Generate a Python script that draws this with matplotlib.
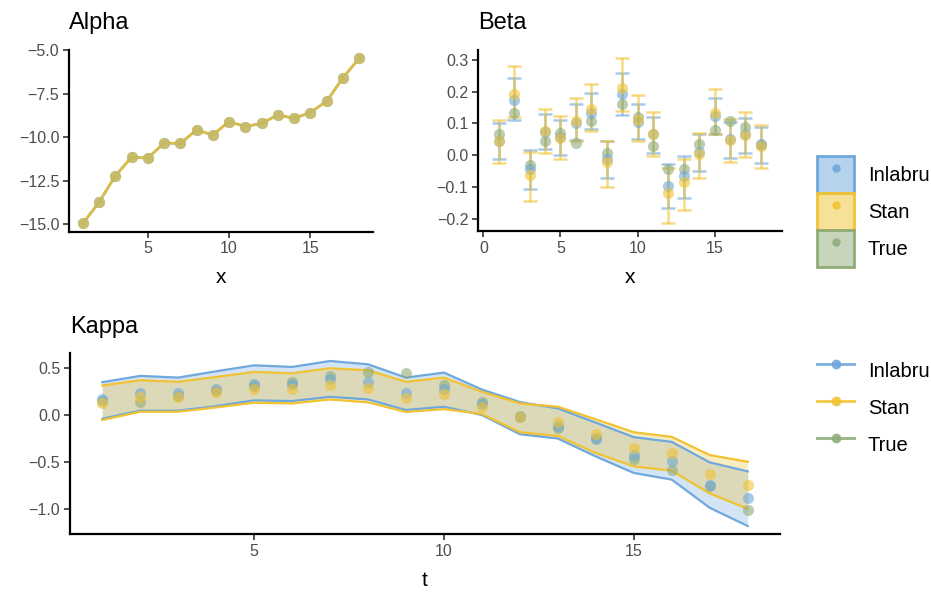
import numpy as np
import matplotlib
matplotlib.use("Agg")
import matplotlib.pyplot as plt
from matplotlib.ticker import FuncFormatter
from matplotlib.patches import Patch
from matplotlib.lines import Line2D
from matplotlib.legend_handler import HandlerTuple

plt.rcParams['font.family'] = ['Liberation Sans', 'DejaVu Sans']

# ---- data ----
idx = np.arange(1, 19)
methods = ["Inlabru", "Stan", "True"]
colors = {"Inlabru": "#6fa8dc", "Stan": "#f1c232", "True": "#8fac78"}

alpha_true = [-14.96, -13.74, -12.22, -11.15, -11.20, -10.33, -10.36, -9.58, -9.87,
              -9.10, -9.39, -9.20, -8.72, -8.91, -8.58, -7.93, -6.59, -5.46]
alpha_inlabru = [-14.96, -13.74, -12.22, -11.15, -11.20, -10.33, -10.36, -9.58, -9.87,
                 -9.10, -9.39, -9.20, -8.72, -8.91, -8.58, -7.93, -6.59, -5.46]
alpha_stan = [-14.96, -13.74, -12.22, -11.15, -11.20, -10.33, -10.36, -9.58, -9.87,
              -9.10, -9.39, -9.20, -8.72, -8.91, -8.58, -7.93, -6.59, -5.46]

beta_true = [0.067, 0.134, -0.031, 0.044, 0.069, 0.039, 0.107, 0.006, 0.160,
             0.119, 0.029, -0.043, -0.043, 0.035, 0.078, 0.108, 0.088, 0.031]
beta_inlabru = [0.045, 0.175, -0.044, 0.072, 0.058, 0.100, 0.133, -0.012, 0.192,
                0.104, 0.065, -0.096, -0.067, 0.011, 0.123, 0.050, 0.065, 0.035]
beta_inlabru_lo = [-0.012, 0.112, -0.108, 0.020, 0.000, 0.048, 0.081, -0.072, 0.126,
                   0.050, 0.008, -0.168, -0.134, -0.050, 0.065, -0.008, 0.006, -0.024]
beta_inlabru_hi = [0.100, 0.243, 0.017, 0.131, 0.110, 0.160, 0.196, 0.044, 0.259,
                   0.162, 0.120, -0.027, -0.002, 0.065, 0.181, 0.103, 0.118, 0.088]
beta_stan = [0.044, 0.194, -0.062, 0.075, 0.055, 0.107, 0.146, -0.023, 0.212,
             0.112, 0.066, -0.119, -0.084, 0.003, 0.133, 0.048, 0.063, 0.029]
beta_stan_lo = [-0.026, 0.121, -0.145, 0.008, -0.013, 0.043, 0.077, -0.101, 0.138,
                0.043, -0.003, -0.213, -0.174, -0.073, 0.065, -0.022, -0.005, -0.042]
beta_stan_hi = [0.110, 0.280, 0.011, 0.144, 0.122, 0.181, 0.225, 0.046, 0.305,
                0.188, 0.135, -0.041, -0.013, 0.069, 0.207, 0.114, 0.135, 0.096]

kappa_true = [0.150, 0.141, 0.200, 0.250, 0.310, 0.348, 0.411, 0.457, 0.446,
              0.323, 0.141, -0.011, -0.141, -0.240, -0.468, -0.587, -0.756, -1.009]
kappa_inlabru = [0.165, 0.235, 0.229, 0.271, 0.334, 0.327, 0.383, 0.345, 0.229,
                 0.271, 0.116, -0.020, -0.116, -0.250, -0.422, -0.485, -0.738, -0.883]
kappa_inlabru_lo = [-0.039, 0.046, 0.046, 0.095, 0.155, 0.148, 0.193, 0.165, 0.053,
                    0.088, 0.000, -0.204, -0.250, -0.440, -0.615, -0.686, -0.985, -1.178]
kappa_inlabru_hi = [0.348, 0.415, 0.397, 0.464, 0.527, 0.510, 0.573, 0.538, 0.397,
                    0.450, 0.270, 0.137, 0.070, -0.081, -0.235, -0.285, -0.503, -0.598]
kappa_stan = [0.130, 0.186, 0.193, 0.239, 0.281, 0.271, 0.323, 0.288, 0.183,
              0.218, 0.088, -0.025, -0.070, -0.204, -0.352, -0.404, -0.626, -0.742]
kappa_stan_lo = [-0.053, 0.035, 0.035, 0.081, 0.130, 0.123, 0.165, 0.134, 0.032,
                 0.063, 0.011, -0.183, -0.222, -0.404, -0.545, -0.591, -0.833, -0.995]
kappa_stan_hi = [0.313, 0.369, 0.352, 0.404, 0.457, 0.443, 0.496, 0.475, 0.352,
                 0.397, 0.246, 0.123, 0.088, -0.046, -0.183, -0.232, -0.425, -0.496]

alpha_data = {"Inlabru": alpha_inlabru, "Stan": alpha_stan, "True": alpha_true}
beta_data = {"Inlabru": beta_inlabru, "Stan": beta_stan, "True": beta_true}
kappa_data = {"Inlabru": kappa_inlabru, "Stan": kappa_stan, "True": kappa_true}

PT_ALPHA = 0.6
MS = 8
draw_order = ["True", "Inlabru", "Stan"]


def minus_fmt(v, pos):
    return f"{v:.1f}".replace("-", "\u2212")


def style_axes(ax, title, xlabel, title_pad):
    for s in ["top", "right"]:
        ax.spines[s].set_visible(False)
    for s in ["left", "bottom"]:
        ax.spines[s].set_linewidth(1.6)
        ax.spines[s].set_color("black")
    ax.tick_params(axis="both", length=4.5, width=1.2, color="#333333",
                   labelcolor="#4d4d4d", labelsize=11.5, pad=2.5)
    ax.set_title(title, loc="left", fontsize=17, pad=title_pad)
    ax.set_xlabel(xlabel, fontsize=15, labelpad=8.5)


fig = plt.figure(figsize=(9.31, 5.94), dpi=100)

# ---- Alpha ----
ax1 = fig.add_axes([0.0741, 0.6099, 0.3265, 0.3059])
for m in ["Inlabru", "True", "Stan"]:
    ax1.plot(idx, alpha_data[m], color=colors[m], lw=1.8, alpha=0.85)
for m in draw_order:
    ax1.plot(idx, alpha_data[m], "o", color=colors[m], ms=MS, alpha=PT_ALPHA, mec="none")
ax1.set_xlim(0.15, 18.85)
ax1.set_ylim(-15.435, -4.985)
ax1.set_xticks([5, 10, 15])
ax1.set_yticks([-15, -12.5, -10, -7.5, -5])
ax1.yaxis.set_major_formatter(FuncFormatter(minus_fmt))
style_axes(ax1, "Alpha", "x", 15)

# ---- Beta ----
ax2 = fig.add_axes([0.5134, 0.6111, 0.3262, 0.3047])
ax2.errorbar(idx, beta_inlabru,
             yerr=[np.subtract(beta_inlabru, beta_inlabru_lo), np.subtract(beta_inlabru_hi, beta_inlabru)],
             fmt="none", ecolor=colors["Inlabru"], elinewidth=1.8, capsize=5, capthick=1.8, alpha=PT_ALPHA)
ax2.errorbar(idx, beta_stan,
             yerr=[np.subtract(beta_stan, beta_stan_lo), np.subtract(beta_stan_hi, beta_stan)],
             fmt="none", ecolor=colors["Stan"], elinewidth=1.8, capsize=5, capthick=1.8, alpha=PT_ALPHA)
for m in draw_order:
    ax2.plot(idx, beta_data[m], "o", color=colors[m], ms=MS, alpha=PT_ALPHA, mec="none")
ax2.set_xlim(-0.35, 19.35)
ax2.set_ylim(-0.239, 0.331)
ax2.set_xticks([0, 5, 10, 15])
ax2.set_yticks([-0.2, -0.1, 0.0, 0.1, 0.2, 0.3])
ax2.yaxis.set_major_formatter(FuncFormatter(minus_fmt))
style_axes(ax2, "Beta", "x", 15)

# ---- Kappa ----
ax3 = fig.add_axes([0.0752, 0.1005, 0.7626, 0.3057])
ax3.fill_between(idx, kappa_inlabru_lo, kappa_inlabru_hi, color=colors["Inlabru"], alpha=0.3, lw=0)
ax3.plot(idx, kappa_inlabru_lo, color=colors["Inlabru"], lw=1.6)
ax3.plot(idx, kappa_inlabru_hi, color=colors["Inlabru"], lw=1.6)
ax3.fill_between(idx, kappa_stan_lo, kappa_stan_hi, color=colors["Stan"], alpha=0.3, lw=0)
ax3.plot(idx, kappa_stan_lo, color=colors["Stan"], lw=1.6)
ax3.plot(idx, kappa_stan_hi, color=colors["Stan"], lw=1.6)
for m in draw_order:
    ax3.plot(idx, kappa_data[m], "o", color=colors[m], ms=MS, alpha=PT_ALPHA, mec="none")
ax3.set_xlim(0.15, 18.85)
ax3.set_ylim(-1.266, 0.661)
ax3.set_xticks([5, 10, 15])
ax3.set_yticks([-1.0, -0.5, 0.0, 0.5])
ax3.yaxis.set_major_formatter(FuncFormatter(minus_fmt))
style_axes(ax3, "Kappa", "t", 14)

# ---- legends ----
box_handles = [(Patch(facecolor=colors[m], alpha=0.5, edgecolor="none"),
                Patch(facecolor="none", edgecolor=colors[m], lw=2),
                Line2D([], [], marker="o", ls="none", color=colors[m], ms=6, alpha=0.9, mec="none"))
               for m in methods]
fig.legend(box_handles, methods, loc="center left", bbox_to_anchor=(0.878, 0.644),
           handler_map={tuple: HandlerTuple(ndivide=1, pad=0)},
           frameon=False, fontsize=14.5, handlelength=1.8, handleheight=2.45,
           labelspacing=0.0, handletextpad=0.7, borderpad=0, borderaxespad=0)

line_handles = [Line2D([], [], color=colors[m], lw=2, marker="o", ms=7, alpha=0.9, mec="none")
                for m in methods]
fig.legend(line_handles, methods, loc="center left", bbox_to_anchor=(0.878, 0.314),
           frameon=False, fontsize=14.5, handlelength=1.8, handleheight=2.45,
           labelspacing=0.0, handletextpad=0.7, borderpad=0, borderaxespad=0)

fig.savefig("out.png", dpi=100)
